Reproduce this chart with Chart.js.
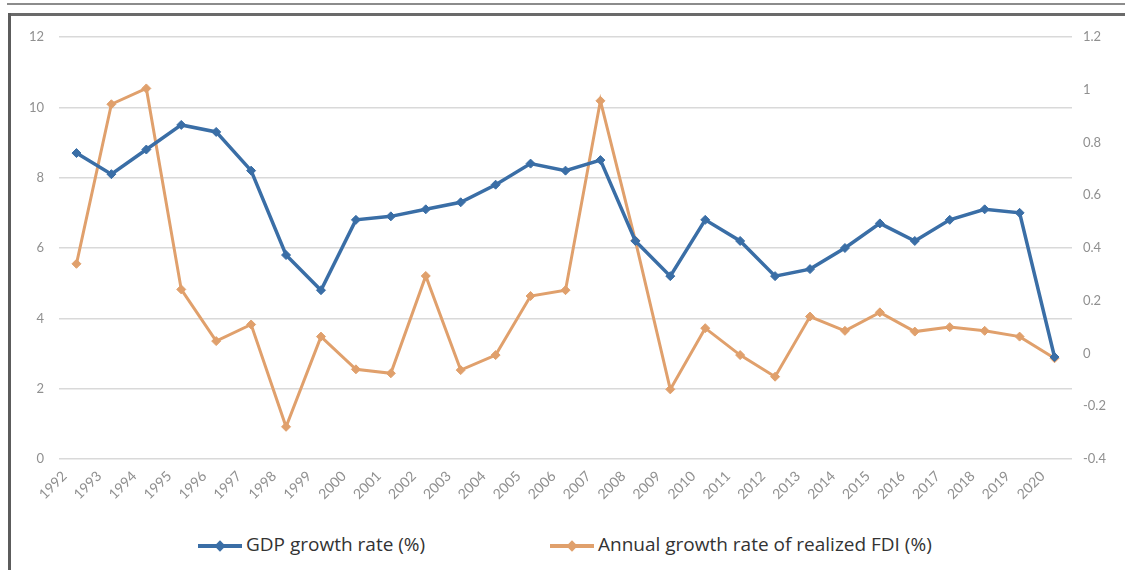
<!DOCTYPE html>
<html>
<head>
<meta charset="utf-8">
<script src="https://cdn.jsdelivr.net/npm/chart.js@4/dist/chart.umd.min.js"></script>
<style>
body { margin:0; background:#fff; width:1125px; height:570px; overflow:hidden; position:relative; }
.rule1 { position:absolute; left:7px; right:0; top:3px; height:2px; background:#8c8c8c; }
.rule2 { position:absolute; left:8px; right:0; top:13px; height:3px; background:#6a6a6a; }
.vline { position:absolute; left:8px; top:13px; bottom:0; width:3px; background:#5c5c5c; }
#wrap { position:absolute; left:0; top:0; width:1125px; height:510px; }
#legend { position:absolute; left:0; top:530px; width:1125px; height:28px;
  font-family:"Open Sans",sans-serif; font-size:19px; color:#333; }
.item { position:absolute; top:0; height:28px; line-height:28px; white-space:nowrap; }
.key { display:inline-block; width:44px; height:4px; position:relative; vertical-align:middle; margin-right:4px; }
.key::after { content:''; position:absolute; left:18px; top:-2px; width:8px; height:8px; background:inherit; transform:rotate(45deg); }
</style>
</head>
<body>
<div class="rule1"></div>
<div class="rule2"></div>
<div class="vline"></div>
<div id="wrap"><canvas id="chart" width="1125" height="510"></canvas></div>
<div id="legend"></div>
<script>
var years = ['1992','1993','1994','1995','1996','1997','1998','1999','2000','2001','2002','2003','2004','2005','2006',
  '2007','2008','2009','2010','2011','2012','2013','2014','2015','2016','2017','2018','2019','2020'];
var gdpGrowth = [8.7, 8.1, 8.8, 9.5, 9.3, 8.2, 5.8, 4.8, 6.8, 6.9, 7.1, 7.3, 7.8, 8.4, 8.2,
  8.5, 6.2, 5.2, 6.8, 6.2, 5.2, 5.4, 6.0, 6.7, 6.2, 6.8, 7.1, 7.0, 2.9];
var fdiGrowth = [0.34, 0.945, 1.005, 0.243, 0.047, 0.11, -0.278, 0.064, -0.06, -0.075, 0.294, -0.063, -0.006, 0.218, 0.24,
  0.958, 0.428, -0.136, 0.096, -0.006, -0.088, 0.14, 0.086, 0.156, 0.083, 0.10, 0.086, 0.064, -0.018];
var seriesNames = ['GDP growth rate (%)', 'Annual growth rate of realized FDI (%)'];
var seriesColors = ['#3a6ea6', '#e0a06c'];
var legendLeft = [198, 550];

var tickFont = { family: 'Lato, "Open Sans", sans-serif', size: 13 };
var tickColor = '#909090';

var ctx = document.getElementById('chart').getContext('2d');
var myChart = new Chart(ctx, {
  type: 'line',
  data: {
    labels: years,
    datasets: [{
      label: seriesNames[0],
      data: gdpGrowth,
      yAxisID: 'y',
      borderColor: seriesColors[0],
      backgroundColor: seriesColors[0],
      borderWidth: 3.5,
      pointStyle: 'rectRot',
      pointRadius: 4.5,
      pointBorderWidth: 1,
      tension: 0
    }, {
      label: seriesNames[1],
      data: fdiGrowth,
      yAxisID: 'y1',
      borderColor: seriesColors[1],
      backgroundColor: seriesColors[1],
      borderWidth: 3,
      pointStyle: 'rectRot',
      pointRadius: 4.5,
      pointBorderWidth: 1,
      tension: 0
    }]
  },
  options: {
    responsive: false,
    animation: false,
    layout: { padding: { top: 37, left: 0, right: 0, bottom: 0 } },
    plugins: { legend: { display: false }, tooltip: { enabled: false } },
    scales: {
      x: {
        offset: true,
        grid: { display: false, drawTicks: false },
        border: { display: false },
        ticks: { autoSkip: false, minRotation: 45, maxRotation: 45, padding: 9, labelOffset: -12,
          color: tickColor, font: { family: tickFont.family, size: 14 } },
        afterFit: function(scale) { scale.height = 51; }
      },
      y: {
        position: 'left',
        min: 0, max: 12,
        ticks: { stepSize: 2, padding: 15, color: tickColor, font: tickFont },
        grid: { color: '#d9d9d9', lineWidth: 1.5, drawTicks: false },
        border: { display: false },
        afterFit: function(scale) { scale.width = 59; }
      },
      y1: {
        position: 'right',
        min: -0.4, max: 1.2,
        ticks: { stepSize: 0.2, padding: 11, color: tickColor, font: tickFont,
          callback: function(v) { return String(Number(v.toFixed(1))); } },
        grid: { display: false, drawTicks: false },
        border: { display: false },
        afterFit: function(scale) { scale.width = 53; }
      }
    }
  }
});

var legend = document.getElementById('legend');
seriesNames.forEach(function(name, i) {
  var item = document.createElement('div');
  item.className = 'item';
  item.style.left = legendLeft[i] + 'px';
  var key = document.createElement('span');
  key.className = 'key';
  key.style.background = seriesColors[i];
  item.appendChild(key);
  item.appendChild(document.createTextNode(name));
  legend.appendChild(item);
});
</script>
</body>
</html>
